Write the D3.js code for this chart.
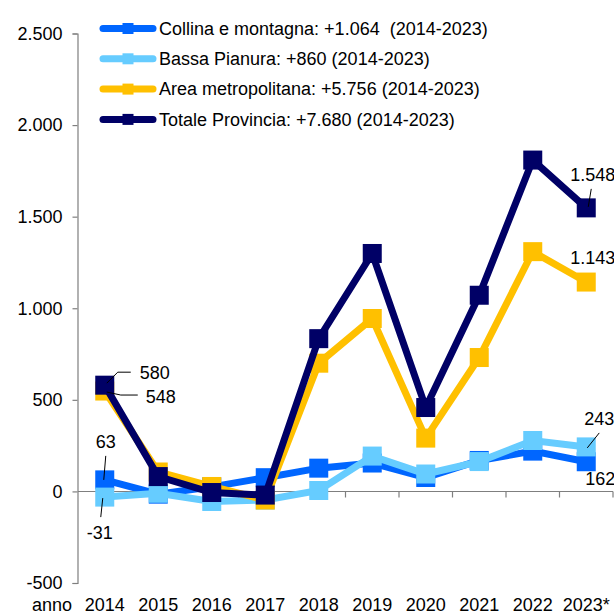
<!DOCTYPE html>
<html>
<head>
<meta charset="utf-8">
<script src="https://cdn.jsdelivr.net/npm/d3@7"></script>
<style>
  html, body { margin: 0; padding: 0; background: #fff; }
  svg { display: block; }
  text { font-family: "Liberation Sans", Arial, sans-serif; fill: #000; white-space: pre; }
</style>
</head>
<body>
<svg id="chart" width="614" height="614"></svg>
<script>
// ---- Data ----
const years = ["2014","2015","2016","2017","2018","2019","2020","2021","2022","2023*"];
const collina = [63, -15, 25, 75, 127, 155, 76, 169, 220, 162];
const bassa = [-31, -10, -55, -47, 5, 193, 95, 163, 278, 243];
const areaMetro = [548, 106, 27, -47, 700, 944, 291, 731, 1309, 1143];
const totale = [580, 81, -6, -20, 834, 1299, 458, 1071, 1809, 1548];
const seriesNames = [
  "Collina e montagna: +1.064  (2014-2023)",
  "Bassa Pianura: +860 (2014-2023)",
  "Area metropolitana: +5.756 (2014-2023)",
  "Totale Provincia: +7.680 (2014-2023)"
];
const seriesColors = ["#0066FF", "#66CCFF", "#FFC000", "#000066"];
const yTicks = [-500, 0, 500, 1000, 1500, 2000, 2500];
const xAxisTitle = "anno";

const series = [collina, bassa, areaMetro, totale].map((vals, i) => ({
  name: seriesNames[i], color: seriesColors[i], values: vals
}));

const locale = d3.formatLocale({decimal: ",", thousands: ".", grouping: [3], currency: ["€", ""], minus: "-"});
const fmt = locale.format(",d");

const svg = d3.select("#chart");
const FONT = 18;

const x = d3.scaleBand().domain(years).range([78, 613]).padding(0);
const y = d3.scaleLinear().domain([-500, 2500]).range([583, 33.5]);
const cx = d => x(d) + x.bandwidth() / 2;

// ---- Y axis ----
const yAxis = svg.append("g")
  .attr("transform", "translate(77.5,0)")
  .call(d3.axisLeft(y).tickValues(yTicks).tickSize(5).tickPadding(10).tickFormat(fmt));
yAxis.select(".domain").attr("stroke", "#7f7f7f").attr("stroke-width", 1.2);
yAxis.selectAll(".tick line").attr("stroke", "#7f7f7f").attr("stroke-width", 1.2);
yAxis.selectAll(".tick text").style("font-size", FONT + "px").style("font-family", "'Liberation Sans', Arial, sans-serif").attr("fill", "#000");

// ---- X axis (at zero) ----
const xAxisG = svg.append("g");
const y0 = Math.round(y(0)) + 0.5;
xAxisG.append("line")
  .attr("x1", x.range()[0]).attr("x2", x.range()[1])
  .attr("y1", y0).attr("y2", y0)
  .attr("stroke", "#7f7f7f").attr("stroke-width", 1.2);
const boundaries = years.map(d => x(d)).concat([x.range()[1]]).slice(1);
xAxisG.selectAll("line.xt").data(boundaries).enter().append("line")
  .attr("class", "xt")
  .attr("x1", d => d).attr("x2", d => d)
  .attr("y1", y0).attr("y2", y0 + 6)
  .attr("stroke", "#7f7f7f").attr("stroke-width", 1.2);
xAxisG.selectAll("text.xl").data(years).enter().append("text")
  .attr("class", "xl")
  .attr("x", d => cx(d)).attr("y", 611)
  .attr("text-anchor", "middle")
  .style("font-size", FONT + "px")
  .text(d => d);
svg.append("text").attr("x", 72).attr("y", 611).attr("text-anchor", "end")
  .style("font-size", FONT + "px").text(xAxisTitle);

// ---- Lines & markers ----
const line = d3.line().x((d, i) => cx(years[i])).y(d => y(d));
const M = 19;
series.forEach(s => {
  const g = svg.append("g");
  g.append("path").datum(s.values)
    .attr("d", line).attr("fill", "none")
    .attr("stroke", s.color).attr("stroke-width", 7)
    .attr("stroke-linejoin", "miter");
  g.selectAll("rect").data(s.values).enter().append("rect")
    .attr("x", (d, i) => cx(years[i]) - M / 2)
    .attr("y", d => y(d) - M / 2)
    .attr("width", M).attr("height", M)
    .attr("fill", s.color);
});

// ---- Data labels ----
const labelDefs = [
  {s: totale, i: 0, dx: 35, dy: -12, anchor: "start", leader: [[2,-2],[13,-13],[26,-13]]},
  {s: areaMetro, i: 0, dx: 41, dy: 6, anchor: "start", leader: [[2,1],[16,4],[33,4]]},
  {s: collina, i: 0, dx: 1, dy: -38, anchor: "middle", leader: [[1,-24],[-1,0]]},
  {s: bassa, i: 0, dx: -5, dy: 36, anchor: "middle", leader: [[-2,1],[-4,20]]},
  {s: totale, i: 9, dx: -16, dy: -33, anchor: "start", leader: [[5,-19],[2,-1]]},
  {s: areaMetro, i: 9, dx: -16, dy: -24, anchor: "start", leader: null},
  {s: bassa, i: 9, dx: -2, dy: -28, anchor: "start", leader: [[13,-14],[1,1]]},
  {s: collina, i: 9, dx: -1, dy: 17, anchor: "start", leader: null}
];
const lab = svg.append("g");
labelDefs.forEach(L => {
  const px = cx(years[L.i]), py = y(L.s[L.i]);
  if (L.leader) {
    lab.append("path")
      .attr("d", d3.line()(L.leader.map(p => [px + p[0], py + p[1]])))
      .attr("fill", "none").attr("stroke", "#000").attr("stroke-width", 1);
  }
  lab.append("text")
    .attr("x", px + L.dx).attr("y", py + L.dy)
    .attr("dy", "0.35em")
    .attr("text-anchor", L.anchor)
    .style("font-size", FONT + "px")
    .text(fmt(L.s[L.i]));
});

// ---- Legend ----
const leg = svg.append("g");
series.forEach((s, i) => {
  const ly = 28.5 + i * 30.3;
  leg.append("line").attr("x1", 103).attr("x2", 153).attr("y1", ly).attr("y2", ly)
    .attr("stroke", s.color).attr("stroke-width", 7).attr("stroke-linecap", "round");
  leg.append("rect").attr("x", 128 - 5.5).attr("y", ly - 5.5).attr("width", 11).attr("height", 11)
    .attr("fill", s.color);
  leg.append("text").attr("x", 159).attr("y", ly).attr("dy", "0.35em")
    .attr("xml:space", "preserve")
    .style("font-size", FONT + "px").text(s.name);
});
</script>
</body>
</html>
